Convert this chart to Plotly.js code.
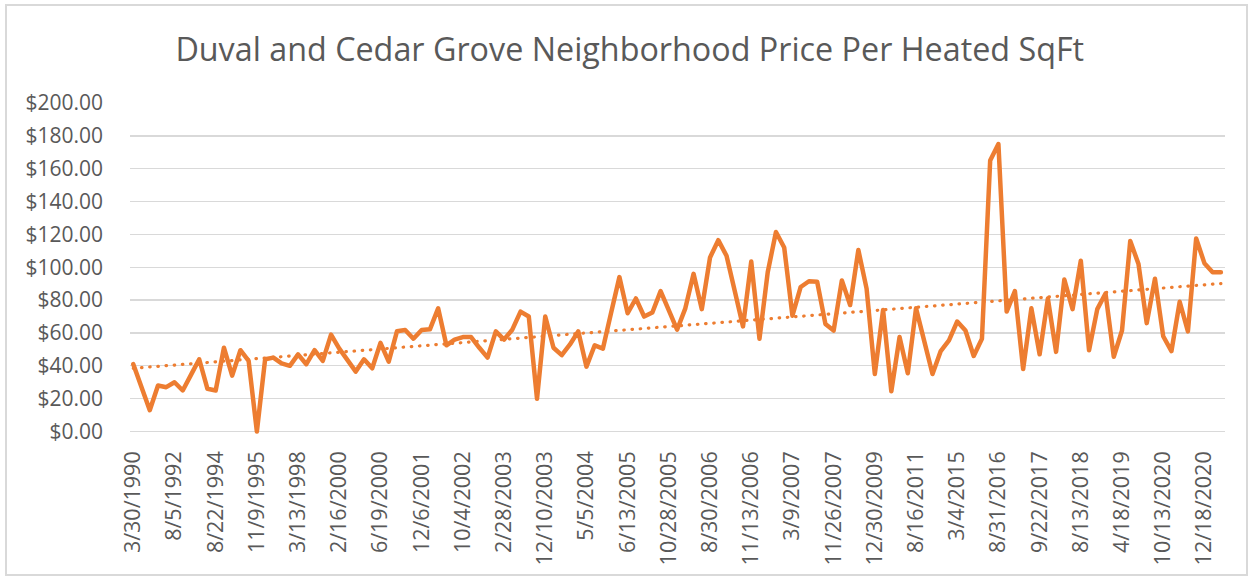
<!DOCTYPE html>
<html>
<head>
<meta charset="utf-8">
<script src="https://cdn.plot.ly/plotly-3.0.1.min.js"></script>
<style>
  html, body { margin: 0; padding: 0; background: #ffffff; overflow: hidden; }
  #frame { position: absolute; left: 5px; top: 4px; width: 1243px; height: 572px; border: 2px solid #D9D9D9; box-sizing: border-box; }
  #chart { position: absolute; left: 0; top: 0; width: 1252px; height: 580px; }
  .scatterlayer .trace:nth-child(1) path.js-line { stroke-linejoin: round; stroke-linecap: round; }
  .scatterlayer .trace:nth-child(2) path.js-line { stroke-linecap: round; }
</style>
</head>
<body>
<div id="frame"></div>
<div id="chart"></div>
<script>
// Tick labels shown every 5th category
const tickLabels = ["3/30/1990","8/5/1992","8/22/1994","11/9/1995","3/13/1998","2/16/2000","6/19/2000",
  "12/6/2001","10/4/2002","2/28/2003","12/10/2003","5/5/2004","6/13/2005","10/28/2005","8/30/2006",
  "11/13/2006","3/9/2007","11/26/2007","12/30/2009","8/16/2011","3/4/2015","8/31/2016","9/22/2017",
  "8/13/2018","4/18/2019","10/13/2020","12/18/2020"];
const labelStep = 5;

// Price per heated sqft, one value per sale
const pricePerSqFt = [
  41, 27.5, 13, 28, 27, 30, 25, 34.5, 44, 26,
  25, 51, 34, 49.5, 43, 0, 44, 45, 41.5, 40,
  47, 41, 49.5, 43, 59, 50.5, 43, 36.5, 44, 38.5,
  54, 42.5, 61, 61.8, 56.5, 61.8, 62.2, 75, 52.5, 56,
  57.5, 57.5, 51, 45, 61, 56, 62, 73, 70, 20,
  70, 51, 46.5, 53, 61, 39.5, 52.5, 50.5, 72.5, 94,
  72, 81, 70, 72.5, 85.5, 74.5, 62, 75, 96, 74.5,
  106, 116.5, 107, 85.5, 64, 103.5, 56.5, 97, 121.5, 112,
  70.5, 88, 91.5, 91.2, 65.5, 61.5, 92, 77, 110.5, 87,
  35, 74, 24.5, 57.5, 35.5, 75, 54, 35, 49, 55.5,
  67, 61.5, 46, 56.5, 165, 175, 73, 85.5, 38, 75,
  47, 81, 48.5, 92.5, 74.5, 104, 49.5, 74.5, 84, 45.5,
  61.5, 116, 102, 66, 93, 58, 49, 79, 61, 117.5,
  102.5, 97, 97
];

const xIdx = pricePerSqFt.map((_, i) => i);

// Linear trendline (least squares) derived from the data
const n = pricePerSqFt.length;
const mx = xIdx.reduce((a, b) => a + b, 0) / n;
const my = pricePerSqFt.reduce((a, b) => a + b, 0) / n;
let sxy = 0, sxx = 0;
for (let i = 0; i < n; i++) { sxy += (xIdx[i] - mx) * (pricePerSqFt[i] - my); sxx += (xIdx[i] - mx) ** 2; }
const slope = sxy / sxx, intercept = my - slope * mx;
const trendX = [0, n - 1];
const trendY = trendX.map(x => intercept + slope * x);

const orange = '#ED7D31';
const grey = '#595959';
const font = 'Open Sans, Liberation Sans, sans-serif';

const traces = [
  { x: xIdx, y: pricePerSqFt, type: 'scatter', mode: 'lines',
    line: { color: orange, width: 4.5 }, hoverinfo: 'skip', showlegend: false },
  { x: trendX, y: trendY, type: 'scatter', mode: 'lines',
    line: { color: orange, width: 3.2, dash: '0.5px,7.7px' }, hoverinfo: 'skip', showlegend: false }
];

const layout = {
  width: 1252, height: 580,
  paper_bgcolor: 'rgba(0,0,0,0)', plot_bgcolor: 'rgba(0,0,0,0)',
  margin: { l: 130, r: 27, t: 103, b: 145.5 },
  title: { text: 'Duval and Cedar Grove Neighborhood Price Per Heated SqFt',
    font: { family: font, size: 32.3, color: grey },
    xref: 'container', yref: 'container', x: 0.503, xanchor: 'center', y: 1 - 50/580, yanchor: 'middle' },
  xaxis: {
    range: [-0.4, n - 1 + 0.5],
    tickmode: 'array',
    tickvals: tickLabels.map((_, j) => j * labelStep),
    ticktext: tickLabels,
    tickangle: -90,
    tickfont: { family: font, size: 21.5, color: grey },
    ticks: '', showgrid: false, zeroline: false, showline: false,
    ticklabelstandoff: 12
  },
  yaxis: {
    range: [-1.5, 200],
    tick0: 0, dtick: 20,
    tickformat: '$,.2f',
    tickfont: { family: font, size: 21, color: grey },
    ticks: '', showline: false,
    gridcolor: '#D9D9D9', gridwidth: 1.3,
    zeroline: true, zerolinecolor: '#D9D9D9', zerolinewidth: 1.6,
    ticklabelstandoff: 26
  }
};

Plotly.newPlot('chart', traces, layout, { staticPlot: true, displayModeBar: false });
</script>
</body>
</html>
